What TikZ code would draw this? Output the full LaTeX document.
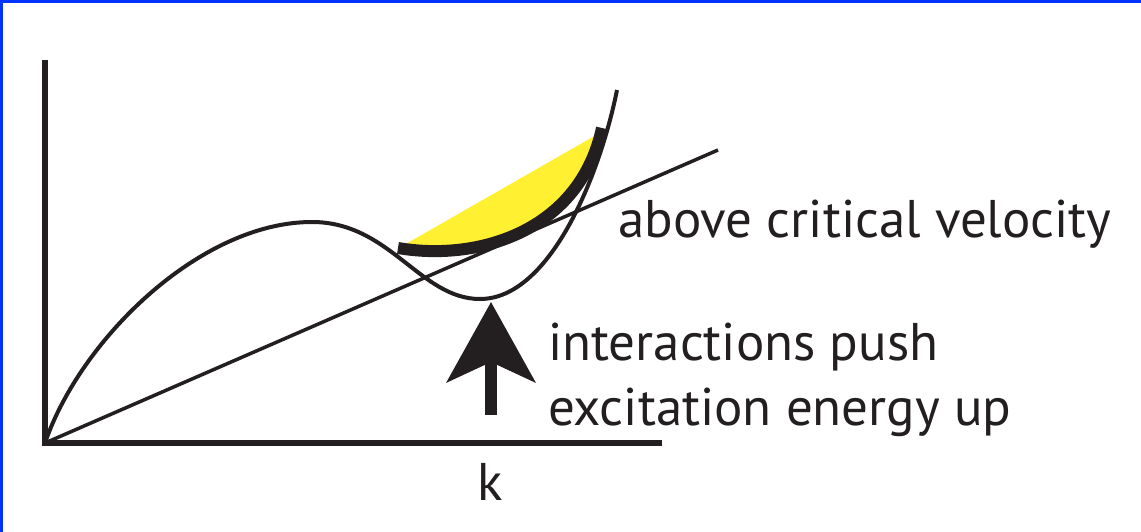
\documentclass[tikz,border=0pt]{standalone}
\usepackage{fontspec}
\setmainfont{PT Sans}
\usetikzlibrary{arrows.meta}
\definecolor{ink}{RGB}{35,31,32}
\definecolor{frameblue}{RGB}{0,51,255}
\definecolor{fillyellow}{RGB}{255,240,50}
\tikzset{
  axis/.style={draw=ink,line width=5.5pt},
  thincurve/.style={draw=ink,line width=4pt},
  thickcurve/.style={draw=ink,line width=12pt},
  label/.style={text=ink,inner sep=0pt,anchor=base west,font=\fontsize{53}{60}\selectfont},
}
\begin{document}
\begin{tikzpicture}[x=1pt,y=-1pt]
\useasboundingbox (0,0) rectangle (1141,532);
\fill[white] (0,0) rectangle (1141,532);
\fill[frameblue] (0,0) rectangle (1141,3);
\fill[frameblue] (0,0) rectangle (3,532);
% coordinates
\coordinate (O) at (45,443);
\coordinate (ytop) at (45,60);
\coordinate (xend) at (662,443);
\coordinate (lineend) at (718,150);
\coordinate (peak) at (312,222);
\coordinate (dip) at (480,299);
\coordinate (curveend) at (617,90);
\coordinate (tA) at (398,248);
\coordinate (tB) at (602,128);
\coordinate (yA) at (404,245);
\coordinate (yB) at (598,134);
\coordinate (arrS) at (491,415);
\coordinate (arrT) at (491,302);
% yellow region
\fill[fillyellow] (yA) -- (yB) .. controls (580,230) and (480,262) .. (tA) -- cycle;
% axes
\draw[axis] (ytop) -- (45,446);
\draw[axis,line width=6pt] (42,443) -- (xend);
% straight line
\draw[thincurve,line width=3.5pt] (O) -- (lineend);
% dispersion curve
\draw[thincurve] (O) .. controls (80,340) and (200,222) .. (peak)
  .. controls (390,222) and (420,299) .. (dip)
  .. controls (550,299) and (600,175) .. (curveend);
% shifted curve
\draw[thickcurve] (tA) .. controls (480,262) and (580,230) .. (tB);
% arrow
\draw[ink,line width=12pt,-{Stealth[length=80pt,width=88pt,inset=20pt]}] (arrS) -- (arrT);
% labels
\node[label] (above) at (618,237) {above critical velocity};
\node[label] (inter) at (548,360) {interactions push};
\node[label] (excit) at (548,425) {excitation energy up};
\node[label] (k) at (477,500) {k};
\end{tikzpicture}
\end{document}
